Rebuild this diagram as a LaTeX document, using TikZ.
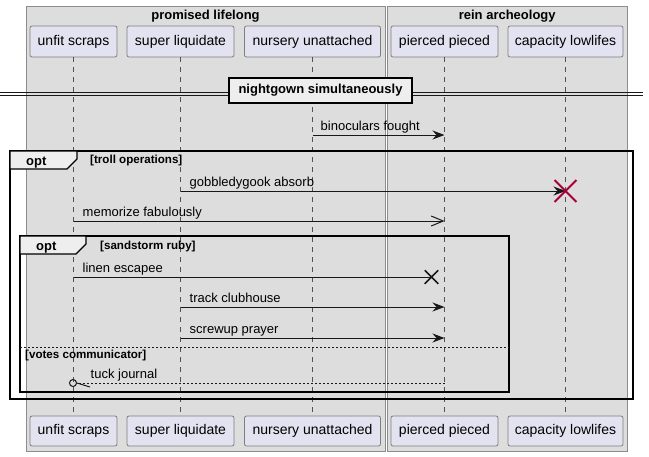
\documentclass[tikz,border=0pt]{standalone}
\usepackage{fontspec}
\setmainfont{Liberation Sans}
\usetikzlibrary{arrows.meta,calc,shapes.misc}
\definecolor{grpfill}{HTML}{DDDDDD}
\definecolor{grpline}{HTML}{8C8C8C}
\definecolor{partfill}{HTML}{E2E2F0}
\definecolor{partline}{HTML}{7E7E7E}
\definecolor{ink}{HTML}{181818}
\definecolor{tabfill}{HTML}{EEEEEE}
\definecolor{killred}{HTML}{A80036}

\begin{document}
\begin{tikzpicture}[x=1pt, y=-1pt, font=\fontsize{13}{15}\selectfont,
  part/.style={draw=partline, fill=partfill, line width=0.8pt, rounded corners=2pt,
    minimum height=31pt, inner sep=0pt, font=\fontsize{14}{16}\selectfont},
  lifeline/.style={draw=ink!75, line width=0.7pt, dash pattern=on 5pt off 5pt},
  msg/.style={draw=ink, line width=1pt, -{Stealth[length=12pt,width=9pt,inset=4pt]}},
  lbl/.style={anchor=base west, inner sep=0pt},
  boldtxt/.style={font=\bfseries\fontsize{13}{15}\selectfont},
  guard/.style={anchor=base west, inner sep=0pt, font=\bfseries\fontsize{11.6}{13}\selectfont},
  optlbl/.style={anchor=base west, inner sep=0pt, boldtxt},
  frame/.style={draw=black, line width=1.5pt},
  tab/.style={fill=tabfill, draw=black, line width=1.2pt},
  divbox/.style={fill=tabfill, draw=black, line width=1.5pt, inner sep=0pt,
    minimum width=183pt, minimum height=25pt, boldtxt}]
  \fill[white] (0,0) rectangle (649,456);
  \useasboundingbox (0,0) rectangle (649,456);

  \foreach \xa/\xb/\name [count=\i] in {26/385/promised lifelong, 387.5/627/rein archeology}{
    \filldraw[fill=grpfill, draw=grpline, line width=0.8pt] (\xa,6) rectangle (\xb,451);
    \node[boldtxt, anchor=base, inner sep=0pt] (grp\i) at ({(\xa+\xb)/2},19) {\name};
  }

  \foreach \id/\x/\w/\name in {
    unfit/73.5/87/unfit scraps,
    super/180.5/107/super liquidate,
    nursery/312.5/136/nursery unattached,
    pierced/444.5/107/pierced pieced,
    capacity/565.5/115/capacity lowlifes}{
    \node[part, minimum width=\w pt] (\id) at (\x,41.5) {\name};
    \node[part, minimum width=\w pt, minimum height=30pt] (\id-b) at (\x,431) {\name};
    \draw[lifeline] (\id) -- (\id-b);
  }

  \foreach \r/\y in {r1/135, r2/191, r3/221, r4/277, r5/307, r6/338, r7/383}
    \coordinate (\r) at (0,\y);

  \draw[ink, line width=1pt] (0,92.5) -- (643,92.5) (0,95.5) -- (643,95.5);
  \node[divbox] (nightgown) at (320.5,90.5) {nightgown simultaneously};

  \draw[frame] (10,151) rectangle (633,399);
  \filldraw[tab] (10,151) -- (77,151) -- (77,159) -- (67,169) -- (10,169) -- cycle;
  \node[optlbl] (opt1) at (26,165) {opt};
  \node[guard] (g1) at (90,163) {[troll operations]};

  \draw[frame] (20,236) rectangle (509,392);
  \filldraw[tab] (20,236) -- (86,236) -- (86,244) -- (76,254) -- (20,254) -- cycle;
  \node[optlbl] (opt2) at (36,250) {opt};
  \node[guard] (g2) at (100,249) {[sandstorm ruby]};
  \draw[ink, line width=0.8pt, dash pattern=on 2pt off 2pt] (20,347) -- (509,347);
  \node[guard] (g3) at (25,358) {[votes communicator]};

  \draw[msg] (nursery |- r1) -- (pierced |- r1);
  \node[lbl] (m1) at ($(nursery |- r1)+(8,-5)$) {binoculars fought};

  \draw[msg] (super |- r2) -- (capacity |- r2);
  \node[cross out, draw=killred, line width=1.8pt, minimum size=20pt, inner sep=0pt] (kill) at (capacity |- r2) {};
  \node[lbl] (m2) at ($(super |- r2)+(9,-5)$) {gobbledygook absorb};

  \draw[draw=ink, line width=1pt, -{Straight Barb[length=12pt,width=10pt]}] (unfit |- r3) -- (pierced |- r3);
  \node[lbl] (m3) at ($(unfit |- r3)+(9,-5)$) {memorize fabulously};

  \node[cross out, draw=ink, line width=1.5pt, minimum size=12pt, inner sep=0pt] (lost) at ($(pierced |- r4)+(-13,0)$) {};
  \draw[ink, line width=1pt] (unfit |- r4) -- (lost.center);
  \node[lbl] (m4) at ($(unfit |- r4)+(9,-5)$) {linen escapee};

  \draw[msg] (super |- r5) -- (pierced |- r5);
  \node[lbl] (m5) at ($(super |- r5)+(9,-5)$) {track clubhouse};

  \draw[msg] (super |- r6) -- (pierced |- r6);
  \node[lbl] (m6) at ($(super |- r6)+(9,-5)$) {screwup prayer};

  \node[circle, draw=ink, line width=1pt, minimum size=7pt, inner sep=0pt] (ring) at ($(unfit |- r7)+(-0.5,0)$) {};
  \draw[ink, line width=0.8pt, dash pattern=on 2pt off 2pt] (pierced |- r7) -- (ring.east);
  \draw[ink, line width=1pt] (ring.east) -- ++(13,4);
  \node[lbl] (m7) at ($(unfit |- r7)+(17,-5)$) {tuck journal};
\end{tikzpicture}
\end{document}
